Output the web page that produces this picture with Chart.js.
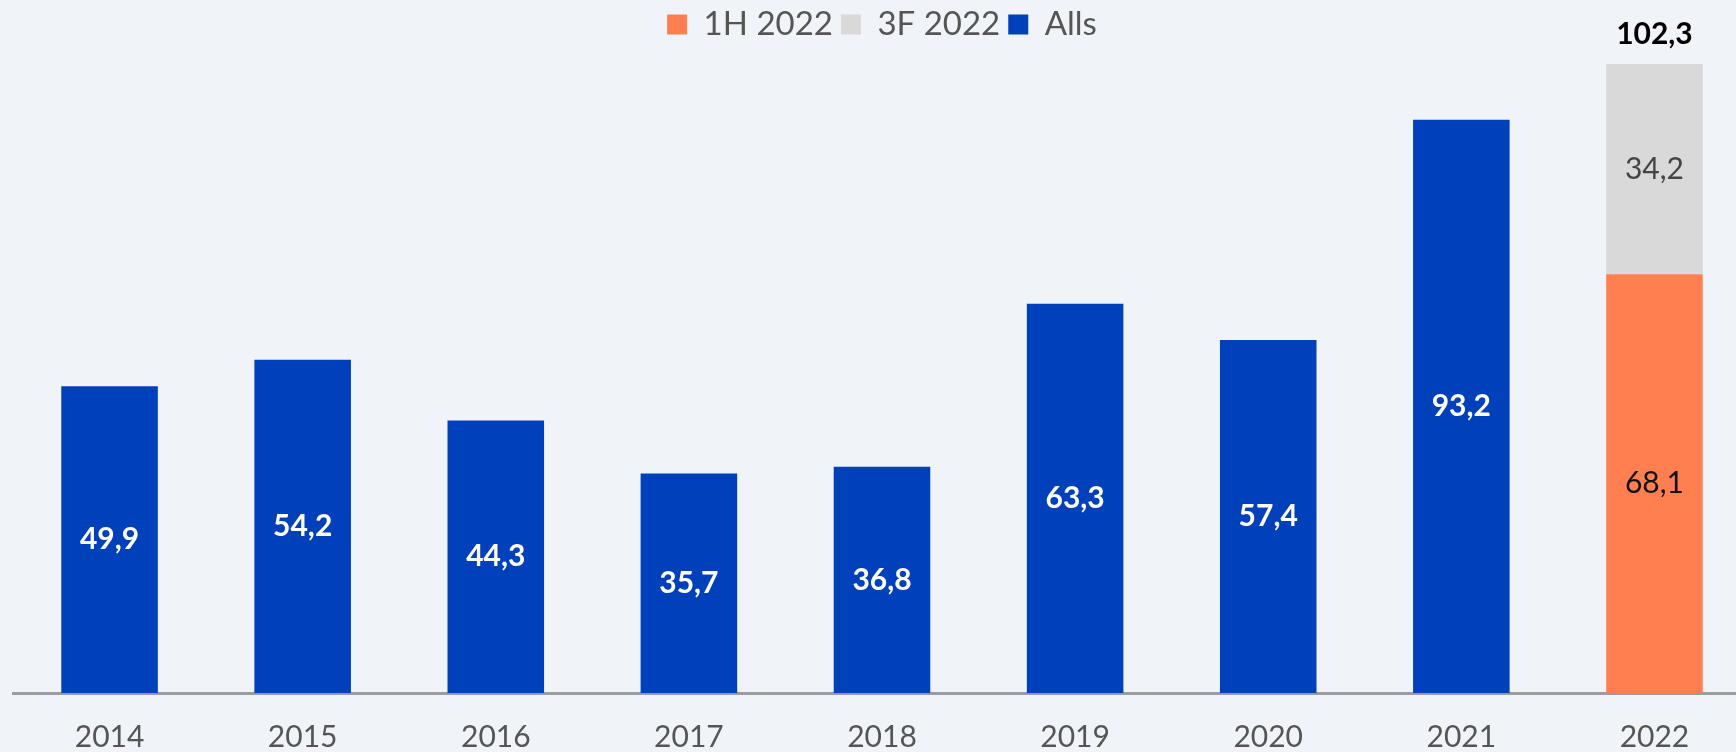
<!DOCTYPE html>
<html>
<head>
<meta charset="utf-8">
<script src="https://cdn.jsdelivr.net/npm/chart.js@4/dist/chart.umd.min.js"></script>
<style>
    html, body { margin: 0; padding: 0; background: #f0f4f8; overflow: hidden; }
    #wrap { width: 1736px; height: 752px; overflow: hidden; }
</style>
</head>
<body>
<div id="wrap"><canvas id="grafico" width="1751" height="752"></canvas></div>
<script>
// Dados do gráfico
const anos = ['2014', '2015', '2016', '2017', '2018', '2019', '2020', '2021', '2022'];
const valores1H = [null, null, null, null, null, null, null, null, 68.1];
const valores3F = [null, null, null, null, null, null, null, null, 34.2];
const valoresAlls = [49.9, 54.2, 44.3, 35.7, 36.8, 63.3, 57.4, 93.2, null];

const corLaranja = '#ff7f50';
const corCinza = '#d9d9d9';
const corAzul = '#0041bb';
const fonte = 'Lato, "Open Sans", sans-serif';

const fmt = v => v.toFixed(1).replace('.', ',');

// Rótulos dentro das barras + total acima da pilha
const rotulosPlugin = {
    id: 'rotulos',
    afterDatasetsDraw(chart) {
        const ctx = chart.ctx;
        ctx.save();
        ctx.textAlign = 'center';
        ctx.textBaseline = 'middle';

        const estilos = [
            { cor: '#111', peso: '400' },
            { cor: '#444', peso: '400' },
            { cor: '#fff', peso: '700' }
        ];

        chart.data.datasets.forEach((ds, di) => {
            const meta = chart.getDatasetMeta(di);
            meta.data.forEach((el, i) => {
                const v = ds.data[i];
                if (v === null || v === undefined) return;
                ctx.fillStyle = estilos[di].cor;
                ctx.font = `${estilos[di].peso} 30px ${fonte}`;
                ctx.fillText(fmt(v), el.x, (el.y + el.base) / 2);
            });
        });

        // total do ano empilhado
        anos.forEach((ano, i) => {
            if (valores1H[i] === null || valores3F[i] === null) return;
            const total = valores1H[i] + valores3F[i];
            const topo = chart.getDatasetMeta(1).data[i];
            ctx.fillStyle = '#000';
            ctx.font = `700 30px ${fonte}`;
            ctx.fillText(fmt(total), topo.x, topo.y - 30);
        });
        ctx.restore();
    }
};

const ctx = document.getElementById('grafico').getContext('2d');
new Chart(ctx, {
    type: 'bar',
    data: {
        labels: anos,
        datasets: [
            { label: '1H 2022', data: valores1H, backgroundColor: corLaranja },
            { label: '3F 2022', data: valores3F, backgroundColor: corCinza },
            { label: 'Alls', data: valoresAlls, backgroundColor: corAzul }
        ]
    },
    options: {
        responsive: false,
        animation: false,
        devicePixelRatio: 1,
        layout: { padding: { left: 13, right: 0, top: 0, bottom: 0 } },
        datasets: {
            bar: { barPercentage: 0.5, categoryPercentage: 1.0, borderWidth: 0 }
        },
        scales: {
            x: {
                stacked: true,
                grid: { display: false, drawTicks: false },
                border: { display: true, color: '#9a9da0', width: 3 },
                ticks: {
                    color: '#555',
                    padding: 26,
                    font: { family: fonte, size: 30 }
                },
                afterFit(scale) { scale.height = 59; }
            },
            y: {
                stacked: true,
                display: false,
                min: 0,
                max: 104.4
            }
        },
        plugins: {
            legend: {
                position: 'top',
                labels: {
                    boxWidth: 20,
                    boxHeight: 20,
                    padding: 8,
                    color: '#555',
                    font: { family: fonte, size: 33, lineHeight: 1.0 }
                }
            },
            tooltip: { enabled: false }
        }
    },
    plugins: [rotulosPlugin]
});
</script>
</body>
</html>
